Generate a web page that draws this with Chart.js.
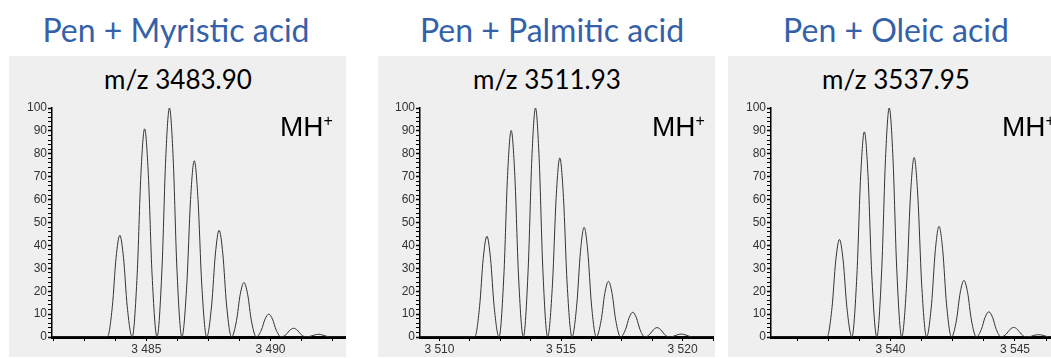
<!doctype html>
<html lang="en">
<head>
<meta charset="utf-8">
<script src="https://cdn.jsdelivr.net/npm/chart.js"></script>
<title>Pen + fatty acids</title>
<style>
  body { margin: 0; background: #fff; width: 1051px; height: 358px; overflow: hidden; position: relative; }
  .box { position: absolute; top: 56px; height: 301px; width: 337px; background: #efefef; }
  .title { position: absolute; top: 14px; font: 32px Lato, sans-serif; line-height: 1; color: #3461a8; white-space: nowrap; transform: translateX(-50%); }
  .sub { position: absolute; top: 66px; font: 26px Lato, sans-serif; line-height: 1; color: #000; white-space: nowrap; transform: translateX(-50%); }
  .ion { position: absolute; top: 113px; font: 28px "Liberation Sans", Arial, sans-serif; line-height: 1; color: #000; white-space: nowrap; }
  .ion sup { font-size: 16px; vertical-align: 10px; line-height: 0; }
  canvas { position: absolute; top: 99px; }
</style>
</head>
<body>
  <div class="box" style="left:9px"></div>
  <div class="box" style="left:378px"></div>
  <div class="box" style="left:728px; width:340px"></div>

  <div class="title" style="left:176px">Pen + Myristic acid</div>
  <div class="title" style="left:552px">Pen + Palmitic acid</div>
  <div class="title" style="left:896px">Pen + Oleic acid</div>

  <div class="sub" style="left:178px">m/z 3483.90</div>
  <div class="sub" style="left:547px">m/z 3511.93</div>
  <div class="sub" style="left:896px">m/z 3537.95</div>

  <canvas id="c1" width="337" height="258" style="left:9px"></canvas>
  <canvas id="c2" width="337" height="258" style="left:377px"></canvas>
  <canvas id="c3" width="337" height="258" style="left:728px"></canvas>

  <div class="ion" style="left:280px">MH<sup>+</sup></div>
  <div class="ion" style="left:652px">MH<sup>+</sup></div>
  <div class="ion" style="left:1002px">MH<sup>+</sup></div>

<script>
// profile points (m/z, relative intensity %)
const myristicMz = [3481.2,
  3483.43, 3483.63, 3483.78, 3483.93, 3484.08, 3484.23,
  3484.43, 3484.63, 3484.78, 3484.93, 3485.08, 3485.23,
  3485.43, 3485.63, 3485.78, 3485.93, 3486.08, 3486.23,
  3486.43, 3486.63, 3486.78, 3486.93, 3487.08, 3487.23,
  3487.43, 3487.63, 3487.78, 3487.93, 3488.08, 3488.23,
  3488.43, 3488.63, 3488.78, 3488.93, 3489.08, 3489.23,
  3489.43, 3489.63, 3489.78, 3489.93, 3490.08, 3490.23,
  3490.43, 3490.63, 3490.78, 3490.93, 3491.08, 3491.23,
  3491.43, 3491.63, 3491.78, 3491.93, 3492.08, 3492.23,
  3492.43, 3493.0];
const myristicInt = [0,
  0, 13.3, 34.6, 44.4, 34.6, 13.3,
  0, 27.3, 70.9, 90.9, 70.9, 27.3,
  0, 30, 78, 100, 78, 30,
  0, 23.1, 60.1, 77, 60.1, 23.1,
  0, 14, 36.3, 46.6, 36.3, 14,
  0, 7.1, 18.6, 23.8, 18.6, 7.1,
  0, 3, 7.8, 10, 7.8, 3,
  0, 1.1, 3, 3.8, 3, 1.1,
  0, 0.4, 0.9, 1.2, 0.9, 0.4,
  0, 0];

const palmiticMz = [3509.2,
  3511.45, 3511.65, 3511.80, 3511.95, 3512.10, 3512.25,
  3512.45, 3512.65, 3512.80, 3512.95, 3513.10, 3513.25,
  3513.45, 3513.65, 3513.80, 3513.95, 3514.10, 3514.25,
  3514.45, 3514.65, 3514.80, 3514.95, 3515.10, 3515.25,
  3515.45, 3515.65, 3515.80, 3515.95, 3516.10, 3516.25,
  3516.45, 3516.65, 3516.80, 3516.95, 3517.10, 3517.25,
  3517.45, 3517.65, 3517.80, 3517.95, 3518.10, 3518.25,
  3518.45, 3518.65, 3518.80, 3518.95, 3519.10, 3519.25,
  3519.45, 3519.65, 3519.80, 3519.95, 3520.10, 3520.25,
  3520.45, 3521.25];
const palmiticInt = [0,
  0, 13.2, 34.3, 44, 34.3, 13.2,
  0, 27.1, 70.4, 90.2, 70.4, 27.1,
  0, 30, 78, 100, 78, 30,
  0, 23.5, 61, 78.2, 61, 23.5,
  0, 14.4, 37.4, 47.9, 37.4, 14.4,
  0, 7.3, 19, 24.3, 19, 7.3,
  0, 3.2, 8.4, 10.8, 8.4, 3.2,
  0, 1.2, 3.2, 4.1, 3.2, 1.2,
  0, 0.4, 1, 1.3, 1, 0.4,
  0, 0];

const oleicMz = [3535.2,
  3537.45, 3537.65, 3537.80, 3537.95, 3538.10, 3538.25,
  3538.45, 3538.65, 3538.80, 3538.95, 3539.10, 3539.25,
  3539.45, 3539.65, 3539.80, 3539.95, 3540.10, 3540.25,
  3540.45, 3540.65, 3540.80, 3540.95, 3541.10, 3541.25,
  3541.45, 3541.65, 3541.80, 3541.95, 3542.10, 3542.25,
  3542.45, 3542.65, 3542.80, 3542.95, 3543.10, 3543.25,
  3543.45, 3543.65, 3543.80, 3543.95, 3544.10, 3544.25,
  3544.45, 3544.65, 3544.80, 3544.95, 3545.10, 3545.25,
  3545.45, 3545.65, 3545.80, 3545.95, 3546.10, 3546.25,
  3546.45, 3547.0];
const oleicInt = [0,
  0, 12.8, 33.2, 42.6, 33.2, 12.8,
  0, 26.9, 69.9, 89.6, 69.9, 26.9,
  0, 30, 78, 100, 78, 30,
  0, 23.5, 61.2, 78.4, 61.2, 23.5,
  0, 14.5, 37.7, 48.3, 37.7, 14.5,
  0, 7.4, 19.3, 24.7, 19.3, 7.4,
  0, 3.3, 8.6, 11, 8.6, 3.3,
  0, 1.3, 3.3, 4.2, 3.3, 1.3,
  0, 0.3, 0.8, 1.0, 0.8, 0.3,
  0, 0];

const xFont = { family: '"Liberation Sans", Arial, sans-serif', size: 12 };
const yFont = { family: '"Liberation Sans", Arial, sans-serif', size: 12 };

function massLabel(v) {
  if (Math.abs(v % 5) > 1e-6) return '';
  const s = String(Math.round(v));
  return s.slice(0, s.length - 3) + ' ' + s.slice(-3);
}

function makeChart(id, mz, inten, xmin, xmax) {
  const pts = mz.map((x, i) => ({ x: x, y: inten[i] }));
  return new Chart(document.getElementById(id), {
    type: 'line',
    data: {
      datasets: [{
        data: pts,
        borderColor: '#333',
        borderWidth: 1,
        pointRadius: 0,
        cubicInterpolationMode: 'monotone',
        fill: false
      }]
    },
    options: {
      responsive: false,
      animation: false,
      devicePixelRatio: 1,
      layout: { padding: { top: 9, right: 1, left: 0, bottom: 0 } },
      plugins: { legend: { display: false }, tooltip: { enabled: false } },
      scales: {
        x: {
          type: 'linear',
          min: xmin,
          max: xmax,
          afterFit: function (s) { s.height = 20; },
          border: { color: '#000', width: 3 },
          grid: { drawOnChartArea: false, tickLength: 4, tickColor: '#000' },
          ticks: {
            stepSize: 1.25, includeBounds: false, autoSkip: false, maxRotation: 0,
            padding: 1, color: '#333', font: xFont, callback: massLabel
          }
        },
        y: {
          min: 0,
          max: 100,
          afterFit: function (s) { s.width = 43; },
          border: { color: '#000', width: 1.5 },
          grid: {
            drawOnChartArea: false, tickLength: 4, tickColor: '#000',
            tickWidth: function (c) { return c.tick && c.tick.value % 10 === 0 ? 1.5 : 1; }
          },
          ticks: {
            stepSize: 2, autoSkip: false, padding: 1, color: '#333', font: yFont,
            callback: function (v) { return v % 10 === 0 ? String(v) : ''; }
          }
        }
      }
    }
  });
}

makeChart('c1', myristicMz, myristicInt, 3481.2, 3493.0);
makeChart('c2', palmiticMz, palmiticInt, 3509.2, 3521.25);
makeChart('c3', oleicMz, oleicInt, 3535.2, 3546.97);
</script>
</body>
</html>
